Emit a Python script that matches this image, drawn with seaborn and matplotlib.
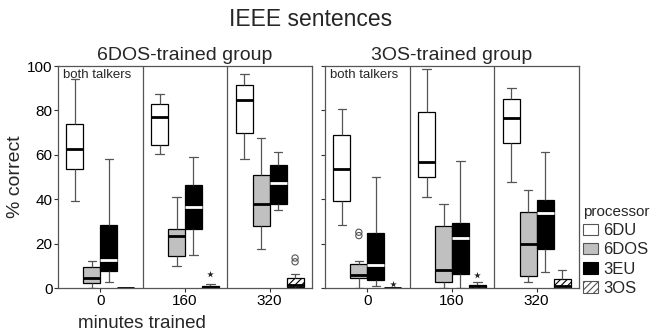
import numpy as np
import pandas as pd
import matplotlib
matplotlib.use("Agg")
import matplotlib.pyplot as plt
from matplotlib.patches import Patch
import seaborn as sns

minutes = ["0", "160", "320"]
processors = ["6DU", "6DOS", "3EU", "3OS"]
groups = ["6DOS-trained group", "3OS-trained group"]

# five-number summaries [min, q1, median, q3, max] for minutes 0, 160, 320
g1_6DU = [[39.1, 53.8, 62.4, 73.7, 94.3], [60.5, 64.2, 77.0, 82.7, 87.5], [58.3, 69.6, 84.5, 91.4, 96.5]]
g1_6DOS = [[0.0, 2.3, 4.5, 9.3, 12.0], [10.0, 14.3, 23.3, 26.8, 41.0], [17.7, 28.1, 38.0, 50.7, 67.4]]
g1_3EU = [[2.7, 7.5, 12.8, 28.6, 58.3], [15.0, 26.6, 36.5, 46.6, 59.0], [35.0, 37.9, 47.4, 55.2, 61.4]]
g1_3OS = [[0.0, 0.0, 0.0, 0.0, 0.0], [0.0, 0.2, 0.5, 1.0, 2.0], [0.0, 0.6, 1.5, 4.6, 6.2]]

g2_6DU = [[28.3, 39.1, 53.4, 68.7, 80.5], [41.0, 50.0, 56.7, 79.4, 98.5], [47.8, 65.4, 76.4, 85.3, 90.2]]
g2_6DOS = [[0.0, 4.5, 6.0, 10.8, 12.0], [0.0, 2.7, 8.0, 28.1, 37.9], [2.7, 5.3, 20.0, 34.3, 44.0]]
g2_3EU = [[0.8, 3.8, 10.2, 24.8, 50.0], [0.0, 6.3, 22.6, 29.3, 57.4], [7.1, 17.7, 33.8, 39.8, 61.4]]
g2_3OS = [[0.0, 0.0, 0.0, 0.0, 0.0], [0.0, 0.0, 0.75, 1.2, 2.7], [0.0, 0.0, 0.75, 4.0, 8.0]]

# outliers: (minutes, processor, value)
g1_circle_min = ["320", "320"]
g1_circle_proc = ["3OS", "3OS"]
g1_circle_val = [13.5, 11.8]
g1_star_min = ["160"]
g1_star_proc = ["3OS"]
g1_star_val = [6.2]
g2_circle_min = ["0", "0"]
g2_circle_proc = ["6DOS", "6DOS"]
g2_circle_val = [25.1, 23.6]
g2_star_min = ["0", "160"]
g2_star_proc = ["3OS", "3OS"]
g2_star_val = [1.8, 5.7]

colors = {"6DU": "white", "6DOS": "#c0c0c0", "3EU": "black", "3OS": "white"}


def long_df(series):
    rows = []
    for proc, summaries in zip(processors, series):
        for m, five in zip(minutes, summaries):
            for v in five:
                rows.append({"minutes": m, "processor": proc, "value": v})
    return pd.DataFrame(rows)


def out_df(mins, procs, vals):
    return pd.DataFrame({"minutes": mins, "processor": procs, "value": vals})


sns.set_theme(style="white")
plt.rcParams["font.family"] = ["Liberation Sans", "DejaVu Sans"]
plt.rcParams["hatch.linewidth"] = 0.8

W, H = 652, 335
fig = plt.figure(figsize=(W / 100, H / 100), dpi=100)
ax1 = fig.add_axes([58 / W, 1 - 288 / H, 254 / W, 222 / H])
ax2 = fig.add_axes([325 / W, 1 - 288 / H, 254 / W, 222 / H])

data_sets = [
    (ax1, [g1_6DU, g1_6DOS, g1_3EU, g1_3OS],
     out_df(g1_circle_min, g1_circle_proc, g1_circle_val),
     out_df(g1_star_min, g1_star_proc, g1_star_val)),
    (ax2, [g2_6DU, g2_6DOS, g2_3EU, g2_3OS],
     out_df(g2_circle_min, g2_circle_proc, g2_circle_val),
     out_df(g2_star_min, g2_star_proc, g2_star_val)),
]

gray = "#555555"
for i, (ax, series, circ, star) in enumerate(data_sets):
    df = long_df(series)
    sns.boxplot(data=df, x="minutes", y="value", hue="processor",
                order=minutes, hue_order=processors, palette=colors,
                whis=(0, 100), showfliers=False, width=0.8, gap=0,
                linecolor="black", linewidth=0.9, saturation=1,
                medianprops={"color": "black", "linewidth": 2},
                whiskerprops={"color": gray, "linewidth": 0.9},
                capprops={"color": gray, "linewidth": 0.9},
                legend=False, ax=ax)
    conts = ax.containers
    for k, c in enumerate(conts):
        if processors[k] == "3EU":
            for med in c.medians:
                med.set_color("white")
        if processors[k] == "3OS":
            for b in c.boxes:
                b.set_hatch("/////")
    n0 = len(ax.collections)
    sns.stripplot(data=circ, x="minutes", y="value", hue="processor",
                  order=minutes, hue_order=processors, dodge=True, jitter=False,
                  marker="o", size=4.5, linewidth=0.8, palette=colors,
                  legend=False, ax=ax)
    for coll in ax.collections[n0:]:
        coll.set_facecolor("none")
        coll.set_edgecolor(gray)
    n1 = len(ax.collections)
    sns.stripplot(data=star, x="minutes", y="value", hue="processor",
                  order=minutes, hue_order=processors, dodge=True, jitter=False,
                  marker="*", size=5, linewidth=0, palette=colors,
                  legend=False, ax=ax)
    for coll in ax.collections[n1:]:
        coll.set_facecolor("#222222")
        coll.set_edgecolor("#222222")

    ax.set_xlim(-0.5, 2.5)
    ax.set_ylim(0, 100)
    ax.axvline(0.5, color=gray, linewidth=0.9)
    ax.axvline(1.5, color=gray, linewidth=0.9)
    for sp in ax.spines.values():
        sp.set_visible(True)
        sp.set_color(gray)
        sp.set_linewidth(0.9)
    ax.set_yticks([0, 20, 40, 60, 80, 100])
    ax.tick_params(axis="both", which="both", direction="out", length=3,
                   width=0.8, color="#333333", labelsize=11, pad=1,
                   bottom=True, left=True, labelcolor="black")
    ax.set_xlabel("")
    ax.set_title(groups[i], fontsize=14, pad=4)
    ax.text(0.02, 0.985, "both talkers", transform=ax.transAxes,
            ha="left", va="top", fontsize=9.5)
    if i == 0:
        ax.set_ylabel("% correct", fontsize=14, labelpad=2)
    else:
        ax.set_ylabel("")
        ax.tick_params(axis="y", labelleft=False)

fig.suptitle("IEEE sentences", fontsize=16.5, x=311 / W, y=1 - 20 / H, va="center")
fig.text(78 / W, 1 - 323 / H, "minutes trained", fontsize=13.5, ha="left", va="center")

handles = [
    Patch(facecolor="white", edgecolor=gray, linewidth=0.8, label="6DU"),
    Patch(facecolor="#c0c0c0", edgecolor=gray, linewidth=0.8, label="6DOS"),
    Patch(facecolor="black", edgecolor="black", linewidth=0.8, label="3EU"),
    Patch(facecolor="white", edgecolor=gray, linewidth=0.8, hatch="/////", label="3OS"),
]
fig.legend(handles=handles, title="processor", loc="upper left",
           bbox_to_anchor=(583 / W, 1 - 205 / H), frameon=False,
           fontsize=12, title_fontsize=11, handlelength=0.9, handleheight=0.7,
           handletextpad=0.3, labelspacing=0.25, borderpad=0, borderaxespad=0,
           alignment="left")

fig.savefig("out.png", dpi=100)
